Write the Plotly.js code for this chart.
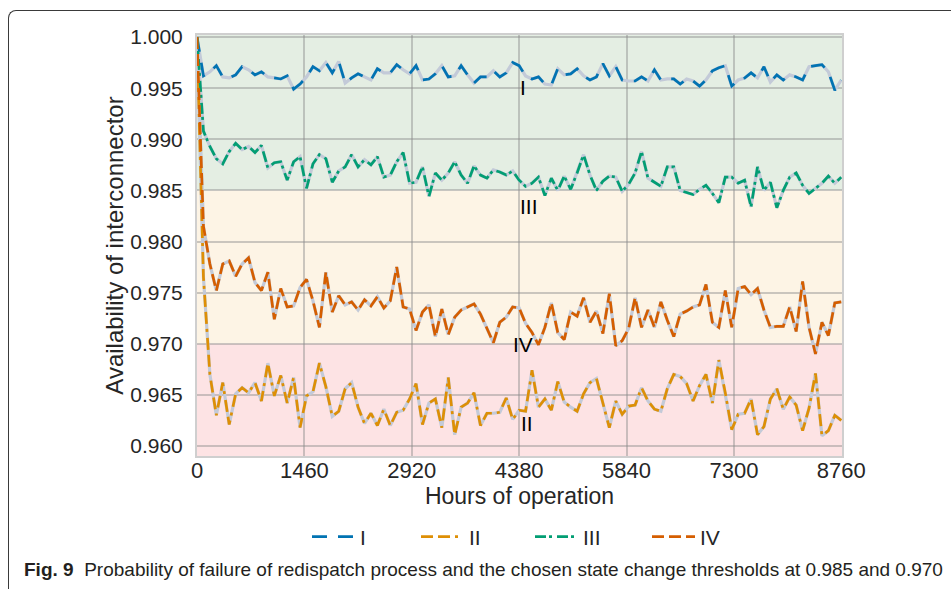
<!DOCTYPE html>
<html><head><meta charset="utf-8">
<script src="https://cdn.plot.ly/plotly-3.0.1.min.js"></script>
<style>
html,body{margin:0;padding:0;background:#fff;overflow:hidden;}
#frame{position:absolute;left:8px;top:10px;width:960px;height:600px;border-left:1.4px solid #3a3a3a;border-top:1.4px solid #3a3a3a;border-top-left-radius:8px;}
#chart{position:absolute;left:0;top:0;width:951px;height:589px;}
</style></head><body>
<div id="frame"></div>
<div id="chart"></div>
<script>
// ---- data ----
const seriesNames = ['I', 'II', 'III', 'IV'];
const stepHours = 87.6;
const seriesI = [1.0,0.9962,0.9966,0.9972,0.9961,0.9960,0.9963,0.9971,0.9968,0.9963,0.9966,0.9961,0.9960,0.9959,0.9962,0.9949,0.9954,0.9961,0.9971,0.9967,0.9975,0.9965,0.9976,0.9955,0.9960,0.9964,0.9961,0.9958,0.9969,0.9965,0.9965,0.9973,0.9968,0.9964,0.9972,0.9958,0.9959,0.9964,0.9972,0.9961,0.9962,0.9972,0.9963,0.9955,0.9961,0.9961,0.9967,0.9961,0.9965,0.9975,0.9972,0.9962,0.9959,0.9961,0.9954,0.9953,0.9969,0.9963,0.9964,0.9969,0.9962,0.9958,0.9961,0.9974,0.9962,0.9971,0.9958,0.9957,0.9957,0.9961,0.9957,0.9968,0.9958,0.9959,0.9959,0.9954,0.9959,0.9957,0.9952,0.9958,0.9967,0.9970,0.9972,0.9952,0.9958,0.9960,0.9965,0.9960,0.9971,0.9956,0.9963,0.9958,0.9963,0.9961,0.9958,0.9971,0.9972,0.9973,0.9966,0.9948,0.9958];
const seriesII = [1.0,0.9765,0.9670,0.9630,0.9662,0.9621,0.9651,0.9657,0.9652,0.9662,0.9644,0.9681,0.9649,0.9669,0.9642,0.9667,0.9618,0.9649,0.9653,0.9681,0.9658,0.9629,0.9634,0.9656,0.9662,0.9638,0.9622,0.9632,0.9620,0.9636,0.9620,0.9633,0.9635,0.9646,0.9661,0.9621,0.9642,0.9646,0.9618,0.9667,0.9611,0.9638,0.9642,0.9652,0.9620,0.9632,0.9632,0.9633,0.9647,0.9626,0.9635,0.9634,0.9674,0.9638,0.9646,0.9635,0.9663,0.9643,0.9638,0.9634,0.9651,0.9662,0.9666,0.9643,0.9618,0.9644,0.9631,0.9639,0.9640,0.9657,0.9644,0.9636,0.9634,0.9656,0.9670,0.9668,0.9661,0.9644,0.9659,0.9670,0.9642,0.9684,0.9652,0.9616,0.9631,0.9632,0.9646,0.9611,0.9619,0.9646,0.9656,0.9636,0.9648,0.9640,0.9615,0.9637,0.9671,0.9610,0.9615,0.9630,0.9625];
const seriesIII = [1.0,0.9908,0.9893,0.9881,0.9876,0.9888,0.9896,0.9890,0.9893,0.9887,0.9894,0.9872,0.9877,0.9878,0.9860,0.9878,0.9883,0.9852,0.9876,0.9885,0.9881,0.9858,0.9869,0.9873,0.9885,0.9873,0.9880,0.9875,0.9883,0.9863,0.9865,0.9878,0.9887,0.9857,0.9858,0.9873,0.9844,0.9867,0.9860,0.9867,0.9878,0.9865,0.9857,0.9874,0.9865,0.9862,0.9870,0.9868,0.9865,0.9869,0.9860,0.9854,0.9857,0.9863,0.9845,0.9862,0.9850,0.9864,0.9851,0.9867,0.9885,0.9865,0.9850,0.9859,0.9864,0.9863,0.9849,0.9856,0.9867,0.9888,0.9862,0.9858,0.9854,0.9873,0.9873,0.9850,0.9848,0.9846,0.9851,0.9855,0.9847,0.9838,0.9863,0.9863,0.9857,0.9860,0.9834,0.9873,0.9850,0.9858,0.9833,0.9850,0.9863,0.9867,0.9855,0.9847,0.9852,0.9857,0.9864,0.9857,0.9863];
const seriesIV = [1.0,0.9815,0.9778,0.9752,0.9778,0.9781,0.9766,0.9778,0.9784,0.9760,0.9752,0.9770,0.9724,0.9754,0.9736,0.9737,0.9755,0.9763,0.9742,0.9716,0.9770,0.9731,0.9747,0.9738,0.9741,0.9733,0.9743,0.9737,0.9746,0.9735,0.9742,0.9775,0.9736,0.9734,0.9713,0.9731,0.9738,0.9707,0.9734,0.9709,0.9726,0.9733,0.9736,0.9739,0.9729,0.9715,0.9701,0.9721,0.9726,0.9736,0.9735,0.9720,0.9711,0.9699,0.9716,0.9740,0.9711,0.9704,0.9731,0.9727,0.9745,0.9721,0.9732,0.9710,0.9749,0.9698,0.9703,0.9715,0.9745,0.9716,0.9733,0.9716,0.9741,0.9723,0.9707,0.9729,0.9732,0.9736,0.9738,0.9758,0.9721,0.9716,0.9752,0.9716,0.9754,0.9756,0.9748,0.9754,0.9733,0.9716,0.9717,0.9717,0.9736,0.9712,0.9761,0.9716,0.9690,0.9721,0.9708,0.9740,0.9741];
const hours = seriesI.map((_, i) => i * stepHours);
const xTicks = [0, 1460, 2920, 4380, 5840, 7300, 8760];
const yTicks = [0.960, 0.965, 0.970, 0.975, 0.980, 0.985, 0.990, 0.995, 1.000];
const upperThreshold = 0.985;
const lowerThreshold = 0.970;
const labelPos = {I: [4435, 0.99502], II: [4489, 0.96219], III: [4516, 0.98339], IV: [4435, 0.96991]};

// ---- styles / layout helpers ----
const colors = ['#0173B2', '#DE8F05', '#029E73', '#D55E00'];
const dashes = ['15px,11px', '12px,5px,12px,5px,3px,6px', '11px,3px,3px,5px', '12px,5px'];
const allSeries = [seriesI, seriesII, seriesIII, seriesIV];
const FONT = 'Liberation Sans, Arial, sans-serif';
const L = 197, R = 842, T = 35, B = 456;
const px2x = p => (p - L) / (R - L);
const px2y = p => (B - p) / (B - T);
const legendIds = ['legend', 'legend2', 'legend3', 'legend4'];
const legendPx = [307, 416, 530, 647];

const traces = [];
allSeries.forEach((s) => {
  traces.push({x: hours, y: s, type: 'scatter', mode: 'lines', showlegend: false, hoverinfo: 'skip',
    line: {color: '#c3cad8', width: 3.2}});
});
allSeries.forEach((s, k) => {
  traces.push({x: hours, y: s, type: 'scatter', mode: 'lines', name: seriesNames[k], legend: legendIds[k],
    line: {color: colors[k], width: 2.7, dash: dashes[k]}});
});

const yMin = 0.95902, yMax = 1.0002;
const shapes = [
  {type: 'rect', xref: 'paper', yref: 'y', x0: 0, x1: 1, y0: upperThreshold, y1: yMax, fillcolor: '#e4eee3', line: {width: 0}, layer: 'below'},
  {type: 'rect', xref: 'paper', yref: 'y', x0: 0, x1: 1, y0: lowerThreshold, y1: upperThreshold, fillcolor: '#fdf4e5', line: {width: 0}, layer: 'below'},
  {type: 'rect', xref: 'paper', yref: 'y', x0: 0, x1: 1, y0: yMin, y1: lowerThreshold, fillcolor: '#fde3e4', line: {width: 0}, layer: 'below'}
];

const annotations = seriesNames.map(n => ({x: labelPos[n][0], y: labelPos[n][1], xref: 'x', yref: 'y',
  text: n, showarrow: false, font: {family: FONT, size: 21, color: '#000'}}));
annotations.push({xref: 'paper', yref: 'paper', x: px2x(22), y: px2y(569), xanchor: 'left', yanchor: 'middle',
  showarrow: false, text: '<b>Fig. 9</b>\u00a0 Probability of failure of redispatch process and the chosen state change thresholds at 0.985 and 0.970',
  font: {family: FONT, size: 19, color: '#231f20'}});

const layout = {
  width: 951, height: 589,
  margin: {l: L, r: 951 - R, t: T, b: 589 - B},
  paper_bgcolor: 'rgba(0,0,0,0)', plot_bgcolor: 'rgba(0,0,0,0)',
  font: {family: FONT, color: '#262626'},
  xaxis: {range: [0, 8770], tickvals: xTicks, ticktext: xTicks.map(String), showgrid: true,
    gridcolor: 'rgba(140,140,140,0.45)', gridwidth: 2, zeroline: false, showline: true, mirror: true,
    linecolor: '#cfcfcf', linewidth: 2, ticks: '', ticklabelstandoff: -6,
    tickfont: {size: 22, color: '#262626'},
    title: {text: 'Hours of operation', font: {size: 23, color: '#262626'}, standoff: 0}},
  yaxis: {range: [yMin, yMax], tickvals: yTicks, ticktext: yTicks.map(v => v.toFixed(3)), showgrid: true,
    gridcolor: 'rgba(140,140,140,0.45)', gridwidth: 2, zeroline: false, showline: true, mirror: true,
    linecolor: '#cfcfcf', linewidth: 2, ticks: 'outside', ticklen: 8, tickcolor: 'rgba(0,0,0,0)',
    tickfont: {size: 21, color: '#262626'},
    title: {text: 'Availability of interconnector', font: {size: 24, color: '#262626'}}},
  shapes: shapes,
  annotations: annotations,
  showlegend: true
};
legendIds.forEach((id, k) => {
  layout[id] = {orientation: 'h', x: px2x(legendPx[k]), xanchor: 'left', y: px2y(537), yanchor: 'middle',
    itemwidth: 43, font: {size: 21, color: '#262626'}, bgcolor: 'rgba(0,0,0,0)'};
});

Plotly.newPlot('chart', traces, layout, {displayModeBar: false, staticPlot: true});
</script>
</body></html>
